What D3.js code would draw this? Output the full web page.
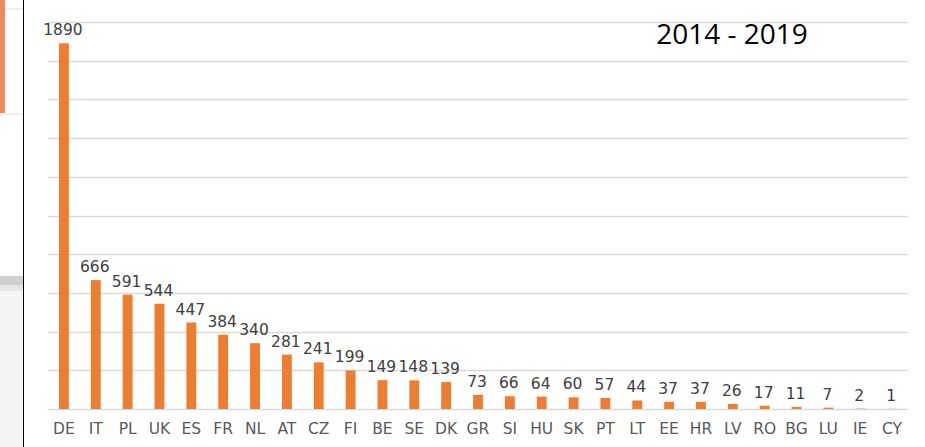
<!DOCTYPE html>
<html>
<head>
<meta charset="utf-8">
<script src="https://cdn.jsdelivr.net/npm/d3@7"></script>
<style>
  body { margin: 0; background: #fff; }
  svg { display: block; }
</style>
</head>
<body>
<svg id="chart" width="925" height="447"></svg>
<script>
var countries = ["DE", "IT", "PL", "UK", "ES", "FR", "NL", "AT", "CZ", "FI", "BE", "SE", "DK", "GR",
    "SI", "HU", "SK", "PT", "LT", "EE", "HR", "LV", "RO", "BG", "LU", "IE", "CY"];
var counts = [1890, 666, 591, 544, 447, 384, 340, 281, 241, 199, 149, 148, 139, 73,
    66, 64, 60, 57, 44, 37, 37, 26, 17, 11, 7, 2, 1];
var yTicks = [0, 200, 400, 600, 800, 1000, 1200, 1400, 1600, 1800, 2000];
var title = "2014 - 2019";

var svg = d3.select("#chart");

// Left strip: edge of the neighbouring slide
var side = svg.append("g");
side.append("rect").attr("x", 0).attr("y", 276).attr("width", 23).attr("height", 171).attr("fill", "#f4f4f4");
side.append("rect").attr("x", 0).attr("y", 276).attr("width", 23).attr("height", 9).attr("fill", "#cfcfcf");
side.append("rect").attr("x", 0).attr("y", 285).attr("width", 23).attr("height", 6).attr("fill", "#e6e6e6");
side.append("line").attr("x1", 0).attr("x2", 23).attr("y1", 9).attr("y2", 9).attr("stroke", "#e0e0e0");
side.append("line").attr("x1", 0).attr("x2", 23).attr("y1", 114).attr("y2", 114).attr("stroke", "#e0e0e0");
side.append("rect").attr("x", 0).attr("y", 0).attr("width", 5).attr("height", 113).attr("fill", "#f08a55");
side.append("line").attr("x1", 23.5).attr("x2", 23.5).attr("y1", 0).attr("y2", 447).attr("stroke", "#000");

var m = { left: 48, right: 17, top: 22, bottom: 38 };
var w = 925 - m.left - m.right;
var h = 447 - m.top - m.bottom;

var g = svg.append("g").attr("transform", "translate(" + m.left + "," + m.top + ")");

var x = d3.scaleBand().domain(countries).range([0, w]).paddingInner(0.69).paddingOuter(0.345);
var y = d3.scaleLinear().domain([0, 2000]).range([h, 0]);

// Gridlines
g.append("g").selectAll("line").data(yTicks).join("line")
    .attr("x1", 0).attr("x2", w)
    .attr("y1", function (d) { return Math.round(y(d)) + 0.5; })
    .attr("y2", function (d) { return Math.round(y(d)) + 0.5; })
    .attr("stroke", "#d9d9d9")
    .attr("stroke-width", 1.5);

// Bars
g.append("g").selectAll("rect").data(counts).join("rect")
    .attr("x", function (d, i) { return x(countries[i]); })
    .attr("y", function (d) { return y(d); })
    .attr("width", x.bandwidth())
    .attr("height", function (d) { return h - y(d); })
    .attr("fill", "#ed7d31");

// Value labels
g.append("g").selectAll("text").data(counts).join("text")
    .attr("x", function (d, i) { return x(countries[i]) + x.bandwidth() / 2 - 1; })
    .attr("y", function (d) { return y(d) - 8; })
    .attr("text-anchor", "middle")
    .attr("font-family", "DejaVu Sans, Verdana, sans-serif")
    .attr("font-size", 15.5)
    .attr("fill", "#404040")
    .text(function (d) { return d; });

// x axis labels
var xAxis = d3.axisBottom(x).tickSize(0);
var gX = g.append("g").attr("transform", "translate(0," + h + ")").call(xAxis);
gX.select(".domain").remove();
gX.selectAll("text")
    .attr("y", 25)
    .attr("dy", 0)
    .attr("font-family", "DejaVu Sans, Verdana, sans-serif")
    .attr("font-size", 15.5)
    .attr("fill", "#595959");

// Title
svg.append("text")
    .attr("x", 732).attr("y", 44)
    .attr("text-anchor", "middle")
    .attr("font-family", "Open Sans, sans-serif")
    .attr("font-size", 28)
    .attr("fill", "#000")
    .text(title);
</script>
</body>
</html>
